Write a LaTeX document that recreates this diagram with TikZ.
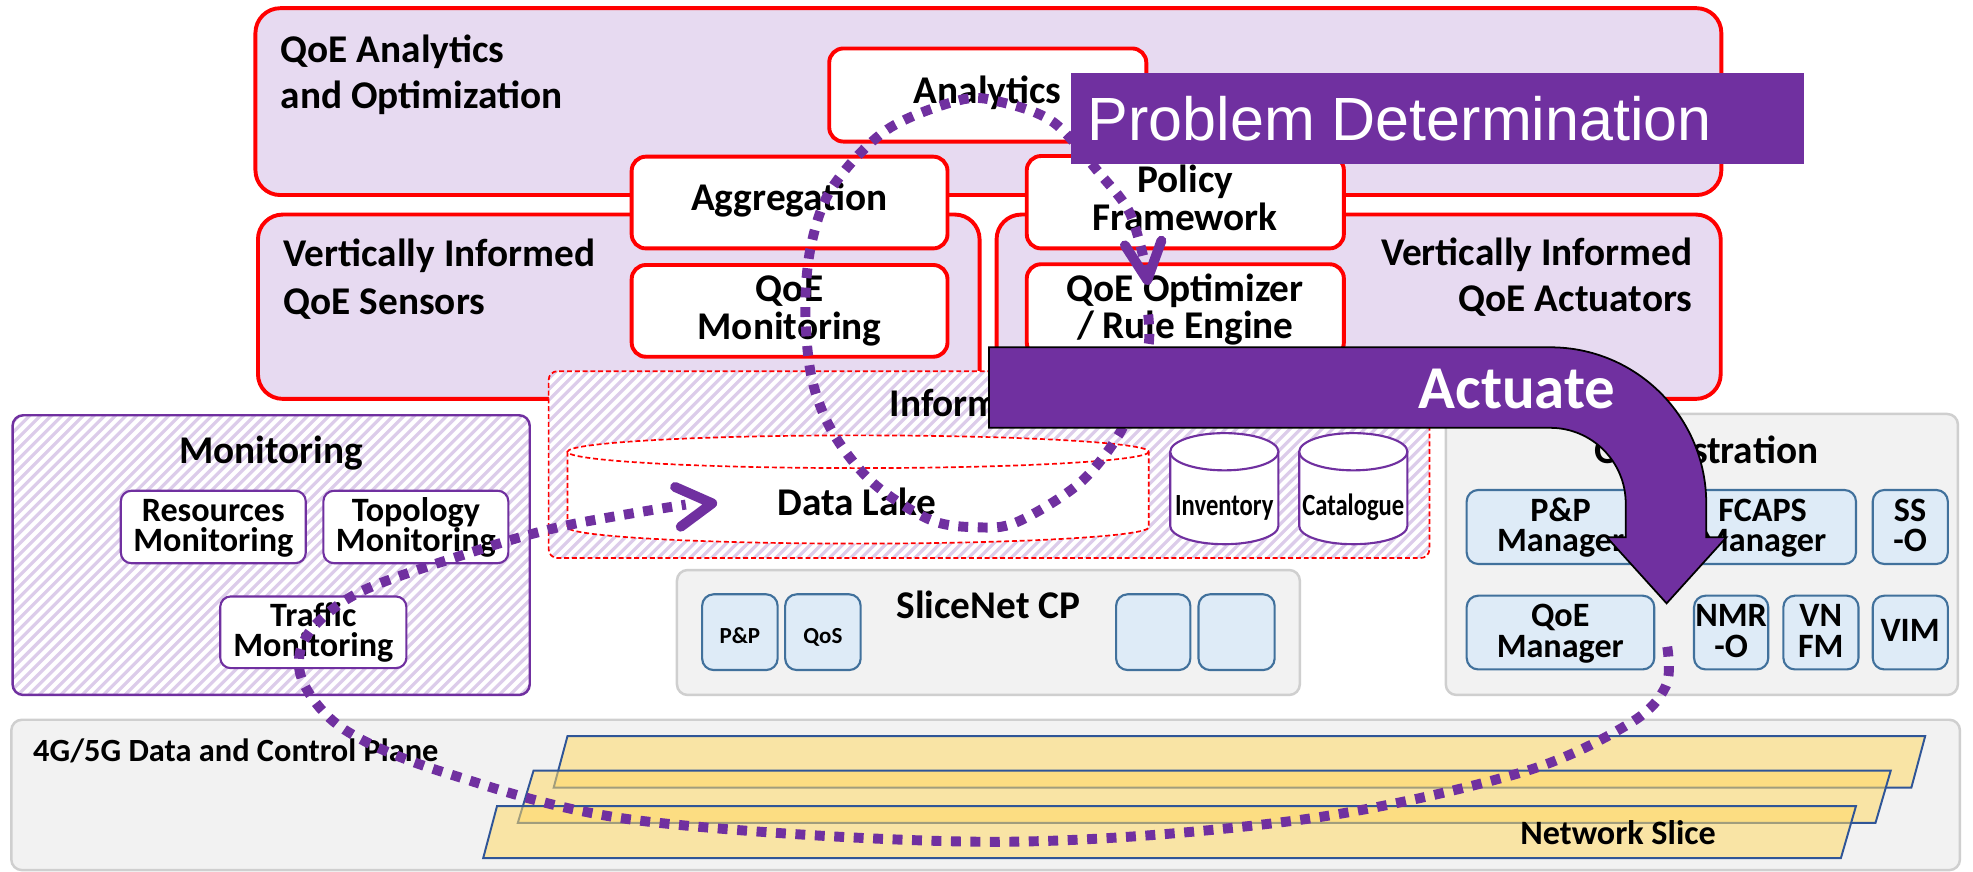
\documentclass[tikz,border=0pt]{standalone}
\usepackage{fontspec}
\setmainfont{Carlito}
\newfontfamily\arialfont{Liberation Sans}
\newfontfamily\narrowfont[FakeStretch=0.8]{Carlito}
\usetikzlibrary{fit}

\definecolor{qred}{HTML}{FF0000}
\definecolor{lav}{HTML}{E7DAF1}
\definecolor{pur}{HTML}{7030A0}
\definecolor{hatchc}{HTML}{DCCCEA}
\definecolor{lgray}{HTML}{F2F2F2}
\definecolor{mgray}{HTML}{CFCFCF}
\definecolor{lblue}{HTML}{DEEBF7}
\definecolor{dblue}{HTML}{41719C}
\definecolor{slicefill}{HTML}{FFD966}
\definecolor{sliceline}{HTML}{2F5597}

\newcommand\fbig{\fontsize{22.2pt}{26pt}\selectfont\bfseries}
\newcommand\fmid{\fontsize{19.3pt}{22pt}\selectfont\bfseries}
\newcommand\fplane{\fontsize{18.3pt}{21pt}\selectfont\bfseries}
\newcommand\fsmall{\fontsize{13pt}{15pt}\selectfont\bfseries}
\newcommand\fnarrow{\narrowfont\fontsize{17.4pt}{20pt}\selectfont\bfseries}
\newcommand\fhuge{\fontsize{34.4pt}{40pt}\selectfont\bfseries}
\newcommand\fbanner{\arialfont\fontsize{34.5pt}{40pt}\selectfont}

\begin{document}
\begin{tikzpicture}[x=0.025cm, y=-0.025cm,
  box/.style={inner sep=0pt, outer sep=0pt},
  redbox/.style={box, draw=qred, line width=2.2pt, fill=lav, rounded corners=14pt},
  whitebox/.style={box, draw=qred, line width=2.2pt, fill=white, rounded corners=8pt},
  stripe/.style={draw=hatchc, line width=1.8pt},
  monbox/.style={box, draw=pur, line width=1.4pt, rounded corners=6pt},
  subbox/.style={box, draw=pur, line width=1.2pt, fill=white, rounded corners=6pt},
  graybox/.style={box, draw=mgray, line width=1.4pt, fill=lgray, rounded corners=6pt},
  bluebox/.style={box, draw=dblue, line width=1.2pt, fill=lblue, rounded corners=6.5pt},
  reddash/.style={draw=qred, line width=0.95pt, dash pattern=on 2.8pt off 1.6pt},
  cyl/.style={draw=pur, line width=1.2pt},
  slice/.style={draw=sliceline, line width=1.1pt, fill=slicefill, fill opacity=0.55},
  dotline/.style={draw=pur, line width=5.6pt, dash pattern=on 5.6pt off 5.4pt},
  chev/.style={draw=pur, line width=5.6pt, line cap=round, line join=round},
  lbl/.style={inner sep=0pt, outer sep=0pt, anchor=base},
  big/.style={lbl, font=\fbig},
  mid/.style={lbl, font=\fmid},
]
\useasboundingbox (0,0) rectangle (1568,693);
\fill[white] (0,0) rectangle (1568,693);

% ---------- 4G/5G plane with network slices ----------
\node[graybox, fit={(9,572)(1557.6,691.5)}] (plane) {};
\node[lbl, anchor=base west, font=\fplane] (planeT) at (26.4,605.3) {4G/5G Data and Control Plane};
\draw[slice] (451,585) -- (1530,585) -- (1519,626) -- (440,626) -- cycle;
\draw[slice] (424,612.5) -- (1502.6,612.5) -- (1490.5,654) -- (411.5,654) -- cycle;
\draw[slice] (395,640.6) -- (1475,640.6) -- (1463,682) -- (384,682) -- cycle;
\node[mid] (sliceT) at (1286,671) {Network Slice};

% ---------- SliceNet control plane ----------
\node[graybox, fit={(538,453)(1033,552.3)}] (cp) {};
\node[big, anchor=base west] (cpT) at (712.6,491.4) {SliceNet CP};
\node[bluebox, fit={(558,472.3)(618,532.5)}] (cpPP) {};
\node[bluebox, fit={(624,472.3)(684,532.5)}] (cpQoS) {};
\node[bluebox, fit={(887,472.3)(946,532.5)}] (cpE1) {};
\node[bluebox, fit={(952.5,472.3)(1013,532.5)}] (cpE2) {};
\node[lbl, font=\fsmall] (cpPPT) at (588,511.3) {P\&P};
\node[lbl, font=\fsmall] (cpQoST) at (654,511.3) {QoS};

% ---------- Orchestration ----------
\node[graybox, fit={(1149,329)(1556,552.3)}] (orch) {};
\node[big, anchor=base east] (orchT) at (1445,368.2) {Orchestration};
\node[bluebox, fit={(1165.6,389.4)(1315,448.2)}] (ppm) {};
\node[bluebox, fit={(1326,389.4)(1475,448.2)}] (fcaps) {};
\node[bluebox, fit={(1488.3,389.4)(1548,448.2)}] (sso) {};
\node[bluebox, fit={(1165.6,473.4)(1314.7,532)}] (qoem) {};
\node[bluebox, fit={(1346.3,473.4)(1405.3,532)}] (nmro) {};
\node[bluebox, fit={(1417.3,473.4)(1477,532)}] (vnfm) {};
\node[bluebox, fit={(1488.3,473.4)(1548,532)}] (vim) {};
\node[mid] (ppmT1) at (1240.3,414.3) {P\&P};
\node[mid] (ppmT2) at (1240.3,438.6) {Manager};
\node[mid] (fcapsT1) at (1400.8,414.3) {FCAPS};
\node[mid] (fcapsT2) at (1400.8,438.6) {Manager};
\node[mid] (ssoT1) at (1518,414.3) {SS};
\node[mid] (ssoT2) at (1518,438.6) {-O};
\node[mid] (qoemT1) at (1240,498) {QoE};
\node[mid] (qoemT2) at (1240,522.3) {Manager};
\node[mid] (nmroT1) at (1375.8,498) {NMR};
\node[mid] (nmroT2) at (1375.8,522.3) {-O};
\node[mid] (vnfmT1) at (1447,498) {VN};
\node[mid] (vnfmT2) at (1447,522.3) {FM};
\node[mid] (vimT) at (1518,510) {VIM};

% ---------- Monitoring (striped panel) ----------
\begin{scope}
  \clip[rounded corners=6pt] (10,330) rectangle (421,552.3);
  \fill[white] (10,330) rectangle (421,552.3);
  \foreach \k in {-240,-231.5,...,430} \draw[stripe] (\k,560) -- (\k+240,320);
\end{scope}
\node[monbox, fit={(10,330)(421,552.3)}] (mon) {};
\node[big] (monT) at (215.5,368.2) {Monitoring};
\node[subbox, fit={(96,390)(243,447.6)}] (resm) {};
\node[subbox, fit={(257,390)(404,447.6)}] (topm) {};
\node[subbox, fit={(175,474)(323,531)}] (trafm) {};
\node[mid] (resmT1) at (169.5,414.3) {Resources};
\node[mid] (resmT2) at (169.5,438.6) {Monitoring};
\node[mid] (topmT1) at (330.5,414.3) {Topology};
\node[mid] (topmT2) at (330.5,438.6) {Monitoring};
\node[mid] (trafmT1) at (249,497.8) {Traffic};
\node[mid] (trafmT2) at (249,522.1) {Monitoring};

% ---------- QoE layers ----------
\node[redbox, fit={(203,6.5)(1368,155)}] (qoeAO) {};
\node[redbox, fit={(205,170.5)(778.5,317)}] (sens) {};
\node[redbox, fit={(792,170.5)(1367.5,317)}] (act) {};
\node[big, anchor=base west] (qoeAOT1) at (223,50) {QoE Analytics};
\node[big, anchor=base west] (qoeAOT2) at (223,86) {and Optimization};
\node[big, anchor=base west] (sensT1) at (225.5,212) {Vertically Informed};
\node[big, anchor=base west] (sensT2) at (225.5,250) {QoE Sensors};
\node[big, anchor=base east] (actT1) at (1345,210.6) {Vertically Informed};
\node[big, anchor=base east] (actT2) at (1345,247.7) {QoE Actuators};

\node[whitebox, fit={(659,38.5)(911,112.5)}] (ana) {};
\node[whitebox, fit={(502,124.5)(753,197.4)}] (agg) {};
\node[whitebox, fit={(816,124)(1068,197.4)}] (pol) {};
\node[whitebox, fit={(502,210.6)(753,283.5)}] (qmon) {};
\node[whitebox, fit={(816,210)(1068,283.5)}] (qopt) {};
\node[big] (anaT) at (785,82) {Analytics};
\node[big] (aggT) at (627.5,167.4) {Aggregation};
\node[big] (polT1) at (942,153) {Policy};
\node[big] (polT2) at (942,182.8) {Framework};
\node[big] (qmonT1) at (627.5,239.7) {QoE};
\node[big] (qmonT2) at (627.5,270.2) {Monitoring};
\node[big] (qoptT1) at (942,239.7) {QoE Optimizer};
\node[big] (qoptT2) at (942,268.9) {/ Rule Engine};

% ---------- Information model with data stores ----------
\begin{scope}
  \clip[rounded corners=5pt] (436,295) rectangle (1136,443.5);
  \fill[white] (436,295) rectangle (1136,443.5);
  \foreach \k in {270,278.5,...,1140} \draw[stripe] (\k,450) -- (\k+160,290);
\end{scope}
\node[box, reddash, rounded corners=5pt, fit={(436,295)(1136,443.5)}] (info) {};
\node[big, anchor=base west] (infoT) at (707,331) {Information Model};

% data lake cylinder
\fill[white] (451,359) -- (451,419) arc[start angle=180, end angle=0, x radius=231, y radius=13] -- (913,359) -- cycle;
\draw[reddash] (451,359) -- (451,419) arc[start angle=180, end angle=0, x radius=231, y radius=13] -- (913,359);
\draw[reddash, fill=white] (682,359) ellipse[x radius=231, y radius=13];
\node[big] (lakeT) at (681,409.3) {Data Lake};

% inventory and catalogue cylinders
\foreach \cx in {973, 1075.5}{
  \fill[white] (\cx-43,359) -- (\cx-43,418) arc[start angle=180, end angle=0, x radius=43, y radius=14.5] -- (\cx+43,359) -- cycle;
  \draw[cyl] (\cx-43,359) -- (\cx-43,418) arc[start angle=180, end angle=0, x radius=43, y radius=14.5] -- (\cx+43,359);
  \draw[cyl, fill=white] (\cx,359) ellipse[x radius=43, y radius=14.8];
}
\node[lbl, font=\fnarrow] (invT) at (973,409.8) {Inventory};
\node[lbl, font=\fnarrow] (catT) at (1075.5,409.8) {Catalogue};

% ---------- dotted control loops ----------
\coordinate (loopA) at (1325,514);
\coordinate (loopB) at (545,401);
\coordinate (lakeTip) at (566,400);
\draw[dotline] plot[smooth, tension=0.55] coordinates {(loopA) (1324,545) (1295,575) (1207,614.5) (1030,652) (790,669) (507,652) (355,614.5) (274,580) (240,540) (244,505) (284,471.5) (365,442) (446,418.5) (loopB)};
\draw[chev] (536.5,387) -- (lakeTip) -- (541,418.6);

\coordinate (loopC) at (912.5,250);
\coordinate (loopD) at (911,214);
\coordinate (optTip) at (911.8,222.5);
\draw[dotline] plot[smooth, tension=0.55] coordinates {(loopC) (913,273) (905,305) (890,344) (858,384) (808,415) (776,419) (739,413) (694,384) (662,344) (645,300) (640,244) (645,193) (662,148) (705,103) (763,79.5) (795,81) (837,97) (874,138) (898,169.5) (loopD)};
\draw[chev] (894,195) -- (optTip) -- (923,191.3);

% ---------- banners ----------
\node[box, fill=pur, fit={(851,58)(1434,130)}] (pdBan) {};
\node[lbl, anchor=base west, font=\fbanner, text=white] (pdT) at (864.4,111.3) {Problem Determination};

\path[fill=pur, draw=black, line width=1pt, line join=miter]
  (786,276) -- (1232,276) .. controls (1300.5,276) and (1356,331.5) .. (1356,400)
  -- (1356,427) -- (1372,427) -- (1324.5,479.5) -- (1277,427) -- (1292,427) -- (1292,400)
  .. controls (1292,366.9) and (1265.1,340) .. (1232,340) -- (786,340) -- cycle;
\node[lbl, anchor=base west, font=\fhuge, text=white] (actuT) at (1127.5,325) {Actuate};
\end{tikzpicture}
\end{document}
